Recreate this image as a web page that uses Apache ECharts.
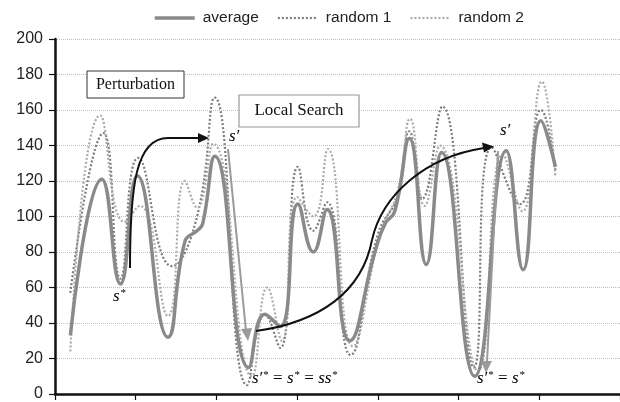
<!DOCTYPE html>
<html>
<head>
<meta charset="utf-8">
<script src="https://cdn.jsdelivr.net/npm/echarts@6/dist/echarts.min.js"></script>
<style>
html,body{margin:0;padding:0;background:#fff;}
#chart{width:620px;height:402px;}
</style>
</head>
<body>
<div id="chart"></div>
<script>
// Series names
var seriesNames = ['average', 'random 1', 'random 2'];
// y-axis ticks
var yTicks = [0, 20, 40, 60, 80, 100, 120, 140, 160, 180, 200];

// average (x positions along the horizontal axis, values)
var avgX = [19, 58, 81, 102, 140, 161, 176, 183, 198, 240, 260, 279, 301, 320, 337, 365, 397, 409, 421, 439, 460, 479, 520, 559, 580, 602, 620];
var avgY = [33, 121, 62, 123, 32, 86, 92, 96, 134, 15, 45, 38, 107, 80, 104, 30, 81, 96, 103, 144, 73, 136, 10, 137, 70, 154, 128];

// random 1
var r1X = [19, 60, 81, 103, 145, 176, 198, 238, 260, 279, 301, 320, 337, 366, 400, 425, 439, 455, 480, 519, 541, 576, 602, 620];
var r1Y = [57, 147, 65, 133, 72, 100, 167, 5, 45, 26, 128, 92, 108, 22, 90, 112, 148, 110, 162, 15, 139, 107, 160, 126];

// random 2
var r2X = [19, 56, 86, 105, 140, 161, 176, 196, 244, 263, 281, 300, 320, 338, 369, 403, 425, 440, 458, 477, 524, 555, 579, 603, 620];
var r2Y = [24, 157, 97, 106, 44, 120, 105, 141, 10, 60, 30, 111, 100, 138, 27, 90, 115, 155, 106, 140, 13, 135, 103, 176, 122];

function pairs(xs, ys) { return xs.map(function (x, i) { return [x, ys[i]]; }); }

var chart = echarts.init(document.getElementById('chart'), null, { renderer: 'canvas' });

var serif = '"Liberation Serif", "Times New Roman", serif';
var sans = '"Liberation Sans", Arial, sans-serif';
var richMath = {
  i: { fontFamily: serif, fontStyle: 'italic', fontSize: 17, color: '#111' },
  sup: { fontFamily: serif, fontSize: 11, color: '#111', verticalAlign: 'top', padding: [0, 0, 0, 1] },
  n: { fontFamily: serif, fontSize: 17, color: '#111' }
};

var option = {
  animation: false,
  backgroundColor: '#fff',
  grid: { left: 55, right: 0, top: 39, bottom: 8, containLabel: false },
  legend: {
    data: [
      { name: seriesNames[0], lineStyle: { width: 3.5 } },
      { name: seriesNames[1], lineStyle: { width: 2.2 } },
      { name: seriesNames[2], lineStyle: { width: 2.2 } }
    ],
    left: 148,
    top: 5,
    itemWidth: 40,
    itemHeight: 16,
    itemGap: 18,
    itemStyle: { opacity: 0 },
    textStyle: { fontSize: 15.5, color: '#222', fontFamily: sans, padding: [0, 0, 0, 3] }
  },
  xAxis: {
    type: 'value',
    min: 0,
    max: 700,
    interval: 100,
    axisLine: { show: true, lineStyle: { color: '#111', width: 2.5 } },
    axisTick: { show: true, inside: false, length: 6, lineStyle: { color: '#111', width: 1.2 } },
    axisLabel: { show: false },
    splitLine: { show: false }
  },
  yAxis: {
    type: 'value',
    min: yTicks[0],
    max: yTicks[yTicks.length - 1],
    interval: 20,
    axisLine: { show: true, lineStyle: { color: '#111', width: 2.5 } },
    axisTick: { show: true, inside: false, length: 6, lineStyle: { color: '#111', width: 1.2 } },
    axisLabel: { fontSize: 16, color: '#222', margin: 12, fontFamily: sans },
    splitLine: { show: true, lineStyle: { color: '#bdbdbd', width: 1, type: [1, 1] } }
  },
  series: [
    {
      name: seriesNames[1], type: 'line', smooth: 0.5, symbol: 'none',
      data: pairs(r1X, r1Y),
      lineStyle: { color: '#7c7c7c', width: 2.2, type: [2, 2] },
      itemStyle: { color: '#7c7c7c' },
      z: 2
    },
    {
      name: seriesNames[2], type: 'line', smooth: 0.5, symbol: 'none',
      data: pairs(r2X, r2Y),
      lineStyle: { color: '#ababab', width: 2.2, type: [2, 2] },
      itemStyle: { color: '#ababab' },
      z: 2
    },
    {
      name: seriesNames[0], type: 'line', smooth: 0.5, symbol: 'none',
      data: pairs(avgX, avgY),
      lineStyle: { color: '#8a8a8a', width: 3.5 },
      itemStyle: { color: '#8a8a8a' },
      z: 3
    }
  ],
  graphic: [
    // Perturbation box
    { type: 'rect', shape: { x: 87, y: 71, width: 97, height: 27 }, style: { fill: '#fff', stroke: '#333', lineWidth: 1 }, z: 10 },
    { type: 'text', x: 135.5, y: 85, style: { text: 'Perturbation', fontFamily: serif, fontSize: 16, fill: '#111', align: 'center', verticalAlign: 'middle' }, z: 11 },
    // Local Search box
    { type: 'rect', shape: { x: 239, y: 95, width: 120, height: 32 }, style: { fill: '#fff', stroke: '#999', lineWidth: 1.2 }, z: 10 },
    { type: 'text', x: 299, y: 111, style: { text: 'Local Search', fontFamily: serif, fontSize: 17, fill: '#111', align: 'center', verticalAlign: 'middle' }, z: 11 },
    // black curved arrow 1
    { type: 'bezierCurve', shape: { x1: 130, y1: 268, cpx1: 130, cpy1: 185, cpx2: 136, cpy2: 138, x2: 168, y2: 138 }, style: { fill: null, stroke: '#111', lineWidth: 2 }, z: 12 },
    { type: 'line', shape: { x1: 167, y1: 138, x2: 200, y2: 138 }, style: { stroke: '#111', lineWidth: 2 }, z: 12 },
    { type: 'polygon', shape: { points: [[198, 133], [209, 138], [198, 143]] }, style: { fill: '#111' }, z: 12 },
    // black curved arrow 2
    { type: 'bezierCurve', shape: { x1: 256, y1: 331, cpx1: 320, cpy1: 322, cpx2: 362, cpy2: 292, x2: 372, y2: 240 }, style: { fill: null, stroke: '#111', lineWidth: 2 }, z: 12 },
    { type: 'bezierCurve', shape: { x1: 372, y1: 240, cpx1: 382, cpy1: 195, cpx2: 425, cpy2: 157, x2: 484, y2: 148 }, style: { fill: null, stroke: '#111', lineWidth: 2 }, z: 12 },
    { type: 'polygon', shape: { points: [[482, 142.5], [494, 146.5], [484, 152.5]] }, style: { fill: '#111' }, z: 12 },
    // gray arrow 1
    { type: 'line', shape: { x1: 228, y1: 149, x2: 246, y2: 331 }, style: { stroke: '#9a9a9a', lineWidth: 2 }, z: 12 },
    { type: 'polygon', shape: { points: [[241, 329], [248, 341], [252, 328]] }, style: { fill: '#9a9a9a' }, z: 12 },
    // gray arrow 2
    { type: 'line', shape: { x1: 498, y1: 151, x2: 487, y2: 362 }, style: { stroke: '#9a9a9a', lineWidth: 2 }, z: 12 },
    { type: 'polygon', shape: { points: [[481, 361], [486, 373], [492, 361]] }, style: { fill: '#9a9a9a' }, z: 12 },
    // labels
    { type: 'text', x: 113, y: 288, style: { text: '{i|s}{sup|*}', rich: richMath }, z: 13 },
    { type: 'text', x: 229, y: 128, style: { text: '{i|s′}', rich: richMath }, z: 13 },
    { type: 'text', x: 500, y: 122, style: { text: '{i|s′}', rich: richMath }, z: 13 },
    { type: 'text', x: 252, y: 370, style: { text: '{i|s′}{sup|*}{n| = }{i|s}{sup|*}{n| = }{i|ss}{sup|*}', rich: richMath }, z: 13 },
    { type: 'text', x: 477, y: 370, style: { text: '{i|s′}{sup|*}{n| = }{i|s}{sup|*}', rich: richMath }, z: 13 }
  ]
};

chart.setOption(option);
</script>
</body>
</html>
